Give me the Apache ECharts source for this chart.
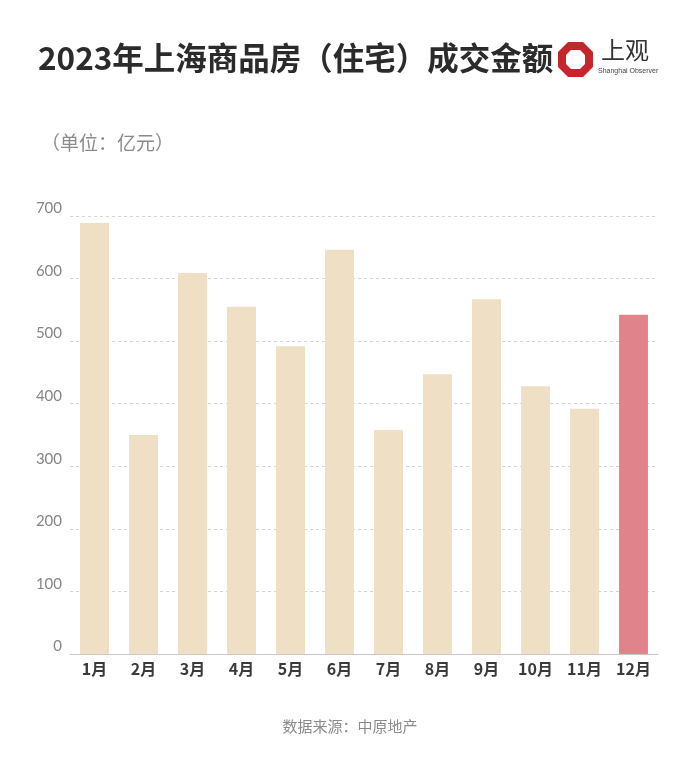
<!DOCTYPE html>
<html>
<head>
<meta charset="utf-8">
<script src="https://cdn.jsdelivr.net/npm/echarts@6/dist/echarts.min.js"></script>
<style>
  html, body { margin: 0; padding: 0; background: #fff; }
  #main { width: 700px; height: 765px; }
</style>
</head>
<body>
<div id="main"></div>
<script>
// 月份与成交金额（亿元）
var months = ['1月', '2月', '3月', '4月', '5月', '6月', '7月', '8月', '9月', '10月', '11月', '12月'];
var amounts = [689, 350, 609, 555, 492, 646, 358, 447, 567, 428, 392, 542];
var yTicks = [0, 100, 200, 300, 400, 500, 600, 700];

var chart = echarts.init(document.getElementById('main'));

var barData = amounts.map(function (v, i) {
  return {
    value: v,
    itemStyle: { color: i === amounts.length - 1 ? '#e0838b' : '#efdfc5' }
  };
});

var option = {
  backgroundColor: '#fff',
  animation: false,
  grid: { left: 70, right: 42, top: 216, bottom: 111 },
  title: [
    {
      text: '2023年上海商品房（住宅）成交金额',
      left: 33, top: 37,
      textStyle: { fontFamily: 'Noto Sans CJK SC', fontSize: 31.5, fontWeight: 'bold', color: '#2b2b2b' }
    },
    {
      text: '（单位：亿元）',
      left: 36, top: 128,
      textStyle: { fontFamily: 'Noto Sans CJK SC', fontSize: 19, fontWeight: 'normal', color: '#8a8a8a' }
    },
    {
      text: '数据来源：中原地产',
      left: 'center', top: 714,
      textStyle: { fontFamily: 'Noto Sans CJK SC', fontSize: 15, fontWeight: 'normal', color: '#8a8a8a' }
    }
  ],
  xAxis: {
    type: 'category',
    data: months,
    axisLine: { lineStyle: { color: '#c8c8cc', width: 1 } },
    axisTick: { show: false },
    axisLabel: {
      margin: 7,
      fontFamily: 'Noto Sans CJK SC',
      fontSize: 16, fontWeight: 'bold', color: '#3a3a3a'
    }
  },
  yAxis: {
    type: 'value',
    min: yTicks[0],
    max: yTicks[yTicks.length - 1],
    interval: 100,
    axisLine: { show: false },
    axisTick: { show: false },
    axisLabel: {
      margin: 8,
      fontFamily: 'Lato',
      fontSize: 15, color: '#858585', fontWeight: 'normal',
      verticalAlign: 'bottom'
    },
    splitLine: { lineStyle: { color: '#d4d4d4', type: [3, 3], width: 1 } }
  },
  series: [{
    type: 'bar',
    data: barData,
    barCategoryGap: '41%'
  }],
  graphic: [
    // 上观 logo
    {
      type: 'polygon',
      shape: { points: [[568, 42], [583, 42], [593, 52], [593, 67], [583, 77], [568, 77], [558, 67], [558, 52]] },
      style: { fill: '#c4272b' }
    },
    {
      type: 'polygon',
      shape: { points: [[571, 50], [580, 50], [585, 55], [585, 64], [580, 69], [571, 69], [566, 64], [566, 55]] },
      style: { fill: '#fff' }
    },
    {
      type: 'text',
      left: 601, top: 38,
      style: { text: '上观', font: '24px "Noto Sans CJK SC"', fill: '#333' }
    },
    {
      type: 'text',
      left: 598, top: 68,
      style: { text: 'Shanghai Observer', font: '7px "Liberation Sans"', fill: '#444' }
    }
  ]
};

chart.setOption(option);
</script>
</body>
</html>
